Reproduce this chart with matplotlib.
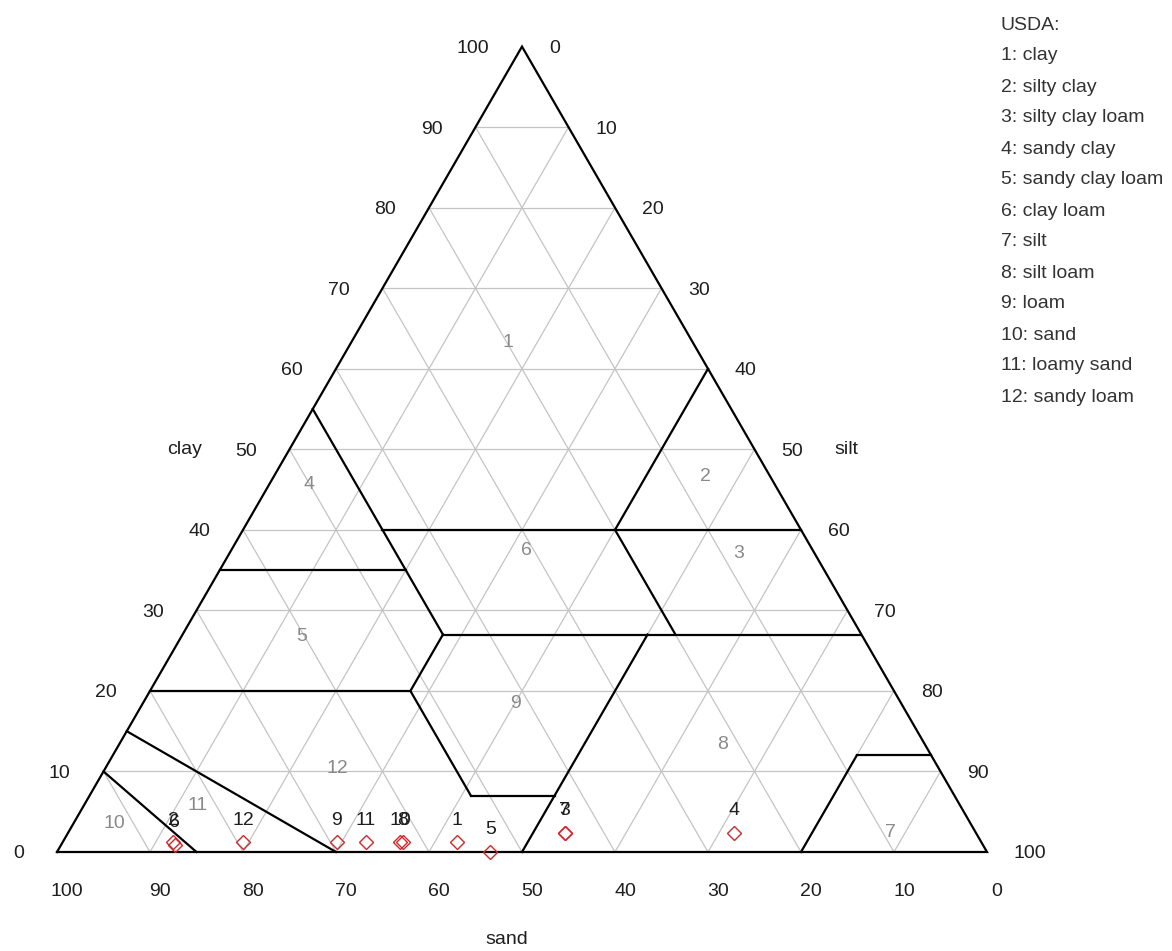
import numpy as np
import matplotlib
matplotlib.use("Agg")
import matplotlib.pyplot as plt

plt.rcParams['font.family'] = ['Liberation Sans', 'DejaVu Sans']

# ---- sample data (percent) ----
sample_ids = ['1', '2', '3', '4', '5', '6', '7', '8', '9', '10', '11', '12']
sand = [56.4, 86.9, 44.2, 26.0, 53.4, 86.9, 44.2, 62.2, 69.3, 62.5, 66.2, 79.4]
silt = [42.4, 11.9, 53.4, 71.6, 46.6, 12.2, 53.4, 36.6, 29.5, 36.3, 32.6, 19.4]
clay = [1.2, 1.2, 2.4, 2.4, 0.0, 0.9, 2.4, 1.2, 1.2, 1.2, 1.2, 1.2]

# ---- USDA classes ----
class_names = ['clay', 'silty clay', 'silty clay loam', 'sandy clay',
               'sandy clay loam', 'clay loam', 'silt', 'silt loam', 'loam',
               'sand', 'loamy sand', 'sandy loam']
# class label anchor compositions (sand, silt, clay)
class_sand = [19.9, 7.0, 8.2, 50.1, 60.3, 30.8, 9.2, 21.8, 41.4, 92.0, 82.0, 64.7]
class_silt = [16.9, 46.4, 54.7, 4.3, 12.9, 31.8, 88.4, 64.9, 40.1, 4.4, 12.2, 24.9]
class_clay = [63.2, 46.6, 37.1, 45.6, 26.8, 37.4, 2.4, 13.3, 18.5, 3.6, 5.8, 10.4]

# boundary segments: (sand1, silt1, clay1, sand2, silt2, clay2)
usda_boundaries = [
    (45, 0, 55, 45, 28, 27),
    (65, 0, 35, 45, 20, 35),
    (45, 15, 40, 0, 60, 40),
    (20, 40, 40, 0, 40, 60),
    (20, 40, 40, 20, 53, 27),
    (45, 28, 27, 0, 73, 27),
    (45, 28, 27, 52, 28, 20),
    (80, 0, 20, 52, 28, 20),
    (52, 28, 20, 52, 41, 7),
    (52, 41, 7, 43, 50, 7),
    (50, 50, 0, 23, 50, 27),
    (20, 80, 0, 8, 80, 12),
    (8, 80, 12, 0, 88, 12),
    (85, 0, 15, 70, 30, 0),
    (90, 0, 10, 85, 15, 0),
]

tick_values = [0, 10, 20, 30, 40, 50, 60, 70, 80, 90, 100]

H = np.sqrt(3) / 2


def tern(sa, si, cl):
    sa, si, cl = np.asarray(sa, float), np.asarray(si, float), np.asarray(cl, float)
    x = (si + cl / 2.0) / 100.0
    y = cl / 100.0 * H
    return x, y


W, Hpx = 1172, 951
fig = plt.figure(figsize=(W / 100, Hpx / 100), dpi=100)
ax = fig.add_axes([0, 0, 1, 1])
scale = 930.0
ax.set_xlim(-57 / scale, (W - 57) / scale)
ax.set_ylim(-(Hpx - 852) / scale, 852 / scale)
ax.axis('off')

grid_col = '#c4c4c4'
txt_col = '#1e1e1e'
fs = 14

# grid lines
for v in tick_values[1:-1]:
    # constant clay
    x, y = tern([100 - v, 0], [0, 100 - v], [v, v])
    ax.plot(x, y, color=grid_col, lw=0.9, zorder=1)
    # constant sand
    x, y = tern([v, v], [100 - v, 0], [0, 100 - v])
    ax.plot(x, y, color=grid_col, lw=0.9, zorder=1)
    # constant silt
    x, y = tern([100 - v, 0], [v, v], [0, 100 - v])
    ax.plot(x, y, color=grid_col, lw=0.9, zorder=1)

# outline
x, y = tern([100, 0, 0, 100], [0, 100, 0, 0], [0, 0, 100, 0])
ax.plot(x, y, color='black', lw=1.6, zorder=3, solid_joinstyle='miter')

# boundaries
for b in usda_boundaries:
    x, y = tern([b[0], b[3]], [b[1], b[4]], [b[2], b[5]])
    ax.plot(x, y, color='black', lw=1.6, zorder=3)

# tick labels
for v in tick_values:
    # clay on left edge
    x, y = tern(100 - v, 0, v)
    ax.annotate(str(v), (x, y), xytext=(-33, -2), textcoords='offset pixels',
                ha='right', va='center', fontsize=fs, color=txt_col)
    # silt on right edge
    x, y = tern(0, v, 100 - v)
    ax.annotate(str(v), (x, y), xytext=(27, -2), textcoords='offset pixels',
                ha='left', va='center', fontsize=fs, color=txt_col)
    # sand on base
    x, y = tern(v, 100 - v, 0)
    ax.annotate(str(v), (x, y), xytext=(10, -40), textcoords='offset pixels',
                ha='center', va='center', fontsize=fs, color=txt_col)

# axis names
x, y = tern(50, 0, 50)
ax.annotate('clay', (x, y), xytext=(-87, 0), textcoords='offset pixels',
            ha='right', va='center', fontsize=fs, color=txt_col)
x, y = tern(0, 50, 50)
ax.annotate('silt', (x, y), xytext=(80, 0), textcoords='offset pixels',
            ha='left', va='center', fontsize=fs, color=txt_col)
x, y = tern(50, 50, 0)
ax.annotate('sand', (x, y), xytext=(-15, -88), textcoords='offset pixels',
            ha='center', va='center', fontsize=fs, color=txt_col)

# class number labels
cx, cy = tern(class_sand, class_silt, class_clay)
for i in range(len(class_names)):
    ax.text(cx[i], cy[i], str(i + 1), ha='center', va='center',
            fontsize=fs, color='#8a8a8a', zorder=2)

# sample points
px, py = tern(sand, silt, clay)
ax.plot(px, py, linestyle='none', marker='D', markersize=7.5,
        markerfacecolor='none', markeredgecolor='#cc2a2a', markeredgewidth=1.0,
        zorder=4, clip_on=False)
for i, lab in enumerate(sample_ids):
    ax.annotate(lab, (px[i], py[i]), xytext=(0, 22), textcoords='offset pixels',
                ha='center', va='center', fontsize=fs, color=txt_col, zorder=5)

# legend text
fig.text(1001 / W, 1 - 25 / Hpx, 'USDA:', ha='left', va='center',
         fontsize=fs, color='#333333')
for i, name in enumerate(class_names):
    fig.text(1001 / W, 1 - (25 + 31 * (i + 1)) / Hpx, f'{i + 1}: {name}',
             ha='left', va='center', fontsize=fs, color='#333333')

fig.savefig('out.png', dpi=100)
